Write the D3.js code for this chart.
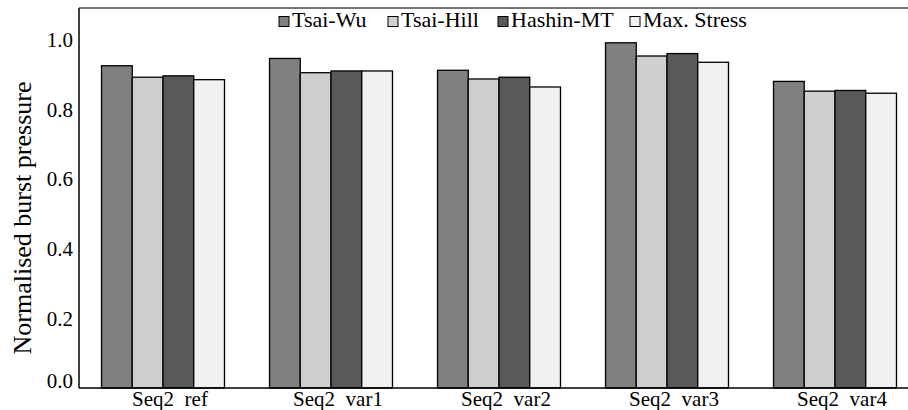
<!DOCTYPE html>
<html><head><meta charset="utf-8">
<script src="https://cdn.jsdelivr.net/npm/d3@7"></script>
<style>body{margin:0;background:#fff}svg{display:block}</style>
</head><body><svg id="c" width="908" height="410"></svg>
<script>
const categories = ["Seq2  ref", "Seq2  var1", "Seq2  var2", "Seq2  var3", "Seq2  var4"];
const seriesNames = ["Tsai-Wu", "Tsai-Hill", "Hashin-MT", "Max. Stress"];
const tsaiWu    = [0.926, 0.947, 0.913, 0.992, 0.881];
const tsaiHill  = [0.893, 0.906, 0.888, 0.954, 0.853];
const hashinMT  = [0.897, 0.911, 0.893, 0.961, 0.855];
const maxStress = [0.886, 0.911, 0.865, 0.936, 0.847];
const yTicks = [0.0, 0.2, 0.4, 0.6, 0.8, 1.0];
const colors = ["#808080", "#d0cece", "#595959", "#f0f0f0"];
const seriesValues = [tsaiWu, tsaiHill, hashinMT, maxStress];

const svg = d3.select("#c");
const mLeft = 79, mBottom = 388, mTop = 8;
const FONT = '"Liberation Serif"';

const y = d3.scaleLinear().domain([0, 1]).range([mBottom, 40]);
const x0 = d3.scaleBand().domain(categories).range([mLeft, mLeft + 5 * 168])
  .paddingInner(0.268).paddingOuter(0.134);
const x1 = d3.scaleBand().domain(seriesNames).range([0, x0.bandwidth()]);

// bars
const g = svg.append("g");
categories.forEach((c, ci) => {
  seriesNames.forEach((s, si) => {
    const v = seriesValues[si][ci];
    g.append("rect")
      .attr("x", x0(c) + x1(s))
      .attr("y", y(v))
      .attr("width", x1.bandwidth())
      .attr("height", y(0) - y(v))
      .attr("fill", colors[si])
      .attr("stroke", "#000")
      .attr("stroke-width", 1.3);
  });
});

// frame
svg.append("line").attr("x1", mLeft).attr("x2", 908).attr("y1", mTop).attr("y2", mTop)
  .attr("stroke", "#444").attr("stroke-width", 1.5);

// y axis
const yAxis = d3.axisLeft(y).tickValues(yTicks).tickFormat(d3.format(".1f")).tickSize(0).tickPadding(6);
const ya = svg.append("g").attr("transform", `translate(${mLeft},0)`).call(yAxis);
ya.attr("font-family", null).attr("font-size", null);
ya.select(".domain").attr("stroke", "#000").attr("stroke-width", 1.5).attr("d", `M0,${mTop}V${mBottom}`);
ya.selectAll("text").style("font-family", FONT).style("font-size", "21px").attr("fill", "#000")
  .attr("y", d => d === 0 ? -7 : 0);

// x axis
const xAxis = d3.axisBottom(x0).tickSize(0).tickPadding(3);
const xa = svg.append("g").attr("transform", `translate(0,${mBottom})`).call(xAxis);
xa.attr("font-family", null).attr("font-size", null);
xa.select(".domain").attr("stroke", "#000").attr("stroke-width", 1.5).attr("d", `M${mLeft},0H908`);
xa.selectAll("text").style("font-family", FONT).style("font-size", "21px").attr("fill", "#000")
  .attr("dx", 7).style("white-space", "pre");

// y title
svg.append("text").attr("transform", `translate(31,${218}) rotate(-90)`)
  .attr("text-anchor", "middle").style("font-family", FONT).style("font-size", "26px")
  .text("Normalised burst pressure");

// legend
const legX = [279, 388, 498, 630];
seriesNames.forEach((s, i) => {
  svg.append("rect").attr("x", legX[i]).attr("y", 16.5).attr("width", 10).attr("height", 10)
    .attr("fill", colors[i]).attr("stroke", "#000").attr("stroke-width", 1);
  svg.append("text").attr("x", legX[i] + 13).attr("y", 27)
    .style("font-family", FONT).style("font-size", "22px").text(s);
});
</script></body></html>
